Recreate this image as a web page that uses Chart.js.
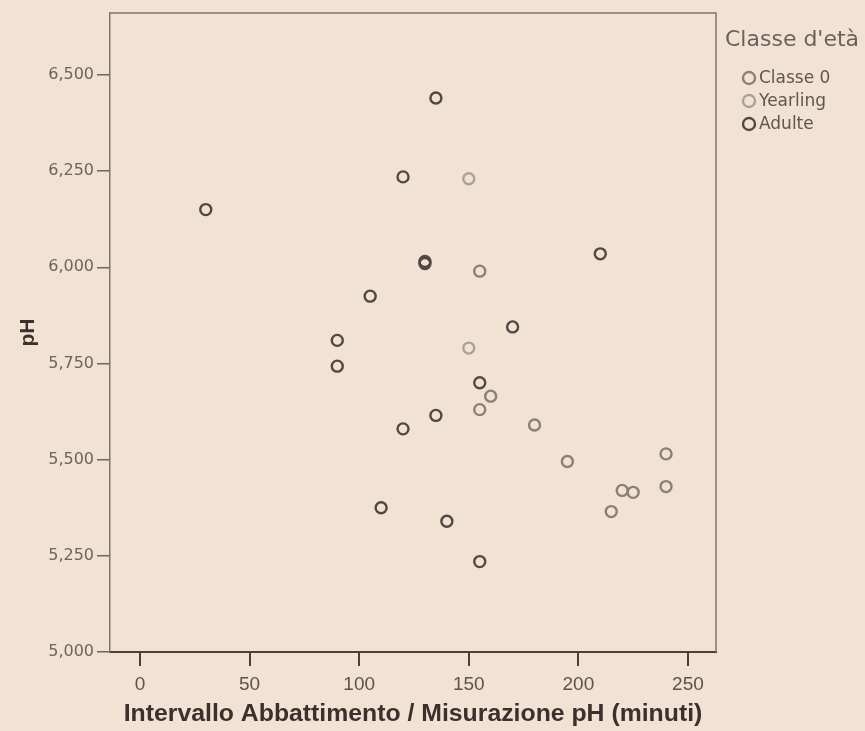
<!DOCTYPE html>
<html><head><meta charset="utf-8">
<script src="https://cdn.jsdelivr.net/npm/chart.js@4.4.1/dist/chart.umd.min.js"></script>
<style>html,body{margin:0;padding:0;background:#f1e2d4;}</style>
</head><body>
<canvas id="c" width="865" height="731"></canvas>
<script>
// ---- data ----
const seriesNames = ['Classe 0', 'Yearling', 'Adulte'];
const classe0X = [155, 160, 155, 180, 195, 240, 240, 220, 225, 215];
const classe0Y = [5.99, 5.665, 5.63, 5.59, 5.495, 5.515, 5.43, 5.42, 5.415, 5.365];
const yearlingX = [150, 150];
const yearlingY = [6.23, 5.79];
const adulteX = [30, 135, 120, 130, 130, 210, 105, 90, 90, 170, 155, 135, 120, 110, 140, 155];
const adulteY = [6.15, 6.44, 6.235, 6.01, 6.015, 6.035, 5.925, 5.81, 5.743, 5.845, 5.70, 5.615, 5.58, 5.375, 5.34, 5.235];
const xTicks = [0, 50, 100, 150, 200, 250];
const yTicks = [5.0, 5.25, 5.5, 5.75, 6.0, 6.25, 6.5];
const xTitle = 'Intervallo Abbattimento / Misurazione pH (minuti)';
const yTitle = 'pH';
const legendTitle = "Classe d'età";

// ---- styles ----
const colors = ['#8c8076', '#aaa299', '#4f4843'];
const toPts = (xs, ys) => xs.map((x, i) => ({x: x, y: ys[i]}));

const mc = document.createElement('canvas').getContext('2d');
mc.font = 'bold 20px "Liberation Sans"';
const xTitleSize = Math.round(20 * 578 / mc.measureText(xTitle).width * 10) / 10;

const bgPlugin = {
  id: 'bg',
  beforeDraw(chart) {
    const ctx = chart.ctx;
    ctx.save();
    ctx.fillStyle = '#f1e2d4';
    ctx.fillRect(0, 0, chart.width, chart.height);
    ctx.restore();
  }
};
const framePlugin = {
  id: 'frame',
  beforeDatasetsDraw(chart) {
    const {left, right, top, bottom} = chart.chartArea;
    const ctx = chart.ctx;
    ctx.save();
    ctx.strokeStyle = '#7d746d';
    ctx.lineWidth = 1.5;
    ctx.beginPath();
    ctx.moveTo(left, top); ctx.lineTo(right, top); ctx.lineTo(right, bottom);
    ctx.stroke();
    ctx.restore();
  }
};
const legendPlugin = {
  id: 'lg',
  afterDraw(chart) {
    const ctx = chart.ctx;
    ctx.save();
    ctx.textBaseline = 'middle';
    ctx.textAlign = 'left';
    ctx.fillStyle = '#6b625c';
    ctx.font = '22px "DejaVu Sans"';
    ctx.fillText(legendTitle, 725, 40);
    chart.data.datasets.forEach((ds, i) => {
      const y = 78 + i * 23;
      ctx.beginPath();
      ctx.arc(749, y, 6, 0, 2 * Math.PI);
      ctx.strokeStyle = ds.borderColor;
      ctx.lineWidth = 2.4;
      ctx.stroke();
      ctx.fillStyle = '#5f5650';
      ctx.font = '17px "DejaVu Sans"';
      ctx.fillText(ds.label, 759, y + 1);
    });
    ctx.restore();
  }
};

const ptStyle = (c) => ({
  pointStyle: 'circle', pointRadius: 5.5, pointHoverRadius: 5.5,
  borderWidth: 2.4, borderColor: c, backgroundColor: 'rgba(0,0,0,0)', showLine: false
});

new Chart(document.getElementById('c'), {
  type: 'scatter',
  data: {
    datasets: [
      Object.assign({label: seriesNames[0], data: toPts(classe0X, classe0Y)}, ptStyle(colors[0])),
      Object.assign({label: seriesNames[1], data: toPts(yearlingX, yearlingY)}, ptStyle(colors[1])),
      Object.assign({label: seriesNames[2], data: toPts(adulteX, adulteY)}, ptStyle(colors[2]))
    ]
  },
  options: {
    responsive: false, animation: false, devicePixelRatio: 1,
    layout: {padding: {top: 13, right: 149, left: 0, bottom: 0}},
    plugins: {legend: {display: false}, tooltip: {enabled: false}},
    scales: {
      x: {
        type: 'linear', min: -13.7, max: 262.8,
        afterBuildTicks: s => { s.ticks = xTicks.map(v => ({value: v})); },
        ticks: {font: {family: 'Liberation Sans', size: 19}, color: '#5d524c', padding: 7, maxRotation: 0,
                callback: v => String(v)},
        grid: {drawOnChartArea: false, tickLength: 14, color: '#4d3f38', lineWidth: 2},
        border: {color: '#4d3f38', width: 2},
        title: {display: true, text: xTitle, color: '#3b302b',
                font: {family: 'Liberation Sans', size: xTitleSize, weight: 'bold'}, padding: {top: 0, bottom: 2}},
        afterFit: s => { s.height = 79; }
      },
      y: {
        type: 'linear', min: 5.0, max: 6.661,
        afterBuildTicks: s => { s.ticks = yTicks.map(v => ({value: v})); },
        ticks: {font: {family: 'DejaVu Sans', size: 16}, color: '#6d645e', padding: 3,
                callback: v => v.toFixed(3).replace('.', ',')},
        grid: {drawOnChartArea: false, tickLength: 13, color: '#6f6660', lineWidth: 1.5},
        border: {color: '#7d746d', width: 1.5},
        title: {display: true, text: yTitle, color: '#3b302b',
                font: {family: 'Liberation Sans', size: 21, weight: 'bold'}, padding: {top: 16, bottom: 0}},
        afterFit: s => { s.width = 110; }
      }
    }
  },
  plugins: [bgPlugin, framePlugin, legendPlugin]
});
</script>
</body></html>
